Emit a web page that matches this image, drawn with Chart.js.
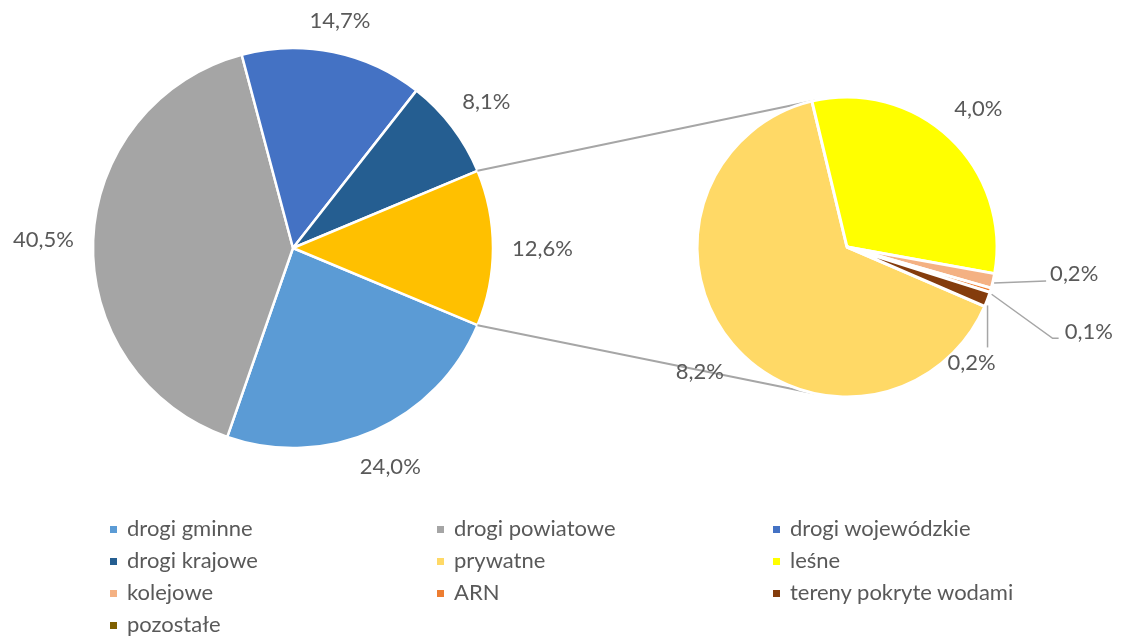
<!DOCTYPE html>
<html><head><meta charset="utf-8">
<script src="https://cdn.jsdelivr.net/npm/chart.js@4"></script>
<style>
html,body{margin:0;padding:0;background:#fff;width:1122px;height:639px;overflow:hidden;font-family:Lato,"Open Sans",sans-serif;}
canvas{position:absolute;left:0;top:0;}
#legend{position:absolute;left:0;top:0;width:1122px;height:639px;pointer-events:none;}
.li{position:absolute;font-size:22px;color:#595959;white-space:nowrap;line-height:26px;height:26px;}
.li span.m{display:inline-block;width:7px;height:7px;margin-right:10px;vertical-align:middle;position:relative;top:-1px;}
</style></head><body>
<canvas id="c1" width="1122" height="639"></canvas>
<canvas id="c2" width="1122" height="639"></canvas>
<div id="legend"></div>
<script>
// ---- data ----
const mainCategories = ['drogi gminne','drogi powiatowe','drogi wojewódzkie','drogi krajowe','pozostałe grunty'];
const mainValues = [24.0, 40.5, 14.7, 8.1, 12.6];
const mainColors = ['#5B9BD5','#A5A5A5','#4472C4','#255E91','#FFC000'];

const subCategories = ['prywatne','leśne','kolejowe','ARN','tereny pokryte wodami','pozostałe'];
const subValues = [8.2, 4.0, 0.2, 0.06, 0.2, 0];
const subColors = ['#FFD966','#FFFF00','#F4B183','#ED7D31','#843C0C','#7F6000'];

const legendItems = ['drogi gminne','drogi powiatowe','drogi wojewódzkie','drogi krajowe','prywatne','leśne','kolejowe','ARN','tereny pokryte wodami','pozostałe'];
const legendColors = ['#5B9BD5','#A5A5A5','#4472C4','#255E91','#FFD966','#FFFF00','#F4B183','#ED7D31','#843C0C','#7F6000'];

const TXT = '#595959';
const FONT = '22px Lato, "Open Sans", sans-serif';
function fmt(v){ return v.toFixed(1).replace('.', ',') + '%'; }

// label plugin
const labelPlugin = {
  id: 'pieLabels',
  afterDatasetsDraw(chart, args, opts) {
    const ctx = chart.ctx;
    const meta = chart.getDatasetMeta(0);
    const data = chart.data.datasets[0].data;
    ctx.save();
    ctx.font = FONT;
    ctx.fillStyle = TXT;
    meta.data.forEach((arc, i) => {
      const v = data[i];
      if (!v) return;
      const p = arc.getProps(['x','y','startAngle','endAngle','outerRadius'], true);
      const mid = (p.startAngle + p.endAngle) / 2;
      const c = Math.cos(mid), s = Math.sin(mid);
      const txt = fmt(v);
      const ov = (opts.overrides || {})[i];
      if (ov) {
        const ax = p.x + p.outerRadius * c, ay = p.y + p.outerRadius * s;
        ctx.strokeStyle = '#A6A6A6';
        ctx.lineWidth = 1.5;
        ctx.beginPath();
        ov.leader.forEach((pt, k) => {
          const X = ax + pt[0], Y = ay + pt[1];
          if (k === 0) ctx.moveTo(X, Y); else ctx.lineTo(X, Y);
        });
        ctx.stroke();
        ctx.textAlign = ov.align; ctx.textBaseline = 'middle';
        ctx.fillText(txt, ax + ov.text[0], ay + ov.text[1]);
        return;
      }
      const w = ctx.measureText(txt).width;
      const d = p.outerRadius + 19 + Math.abs(c) * w / 2 + Math.abs(s) * 8;
      ctx.textAlign = 'center'; ctx.textBaseline = 'middle';
      ctx.fillText(txt, p.x + d * c, p.y + d * s + 1);
    });
    ctx.restore();
  }
};

// connector lines (drawn on secondary chart, using main chart geometry)
let mainChart;
const connectorPlugin = {
  id: 'connectors',
  beforeDatasetsDraw(chart) {
    if (!mainChart) return;
    const mm = mainChart.getDatasetMeta(0);
    const other = mm.data[mm.data.length - 1].getProps(['x','y','startAngle','endAngle','outerRadius'], true);
    const sub = chart.getDatasetMeta(0).data[0].getProps(['x','y','outerRadius'], true);
    const ctx = chart.ctx;
    const pts = [
      [other.x + other.outerRadius*Math.cos(other.startAngle), other.y + other.outerRadius*Math.sin(other.startAngle), 1],
      [other.x + other.outerRadius*Math.cos(other.endAngle), other.y + other.outerRadius*Math.sin(other.endAngle), -1]
    ];
    ctx.save();
    ctx.strokeStyle = '#A6A6A6';
    ctx.lineWidth = 2;
    pts.forEach(([px, py, sign]) => {
      const dx = px - sub.x, dy = py - sub.y;
      const dist = Math.hypot(dx, dy);
      const base = Math.atan2(dy, dx);
      const a = base + sign * Math.acos(sub.outerRadius / dist);
      ctx.beginPath();
      ctx.moveTo(px, py);
      ctx.lineTo(sub.x + sub.outerRadius*Math.cos(a), sub.y + sub.outerRadius*Math.sin(a));
      ctx.stroke();
    });
    ctx.restore();
  }
};

mainChart = new Chart(document.getElementById('c1'), {
  type: 'pie',
  data: { labels: mainCategories, datasets: [{ data: mainValues, backgroundColor: mainColors, borderColor: '#fff', borderWidth: 2.5 }] },
  options: {
    responsive: false, animation: false, rotation: 112.7, radius: 200,
    layout: { padding: { left: 93, right: 1122 - 493, top: 48, bottom: 639 - 448 } },
    plugins: { legend: { display: false }, tooltip: { enabled: false }, pieLabels: {} }
  },
  plugins: [labelPlugin]
});

new Chart(document.getElementById('c2'), {
  type: 'pie',
  data: { labels: subCategories, datasets: [{ data: subValues, backgroundColor: subColors, borderColor: '#fff', borderWidth: 3 }] },
  options: {
    responsive: false, animation: false, rotation: 113.3, radius: 150,
    layout: { padding: { left: 697, right: 1122 - 997, top: 97, bottom: 639 - 397 } },
    plugins: { legend: { display: false }, tooltip: { enabled: false },
      pieLabels: { overrides: {
        2: { leader: [[1, 2], [53, 0]], text: [57, -7], align: 'left' },
        3: { leader: [[1, 4], [62, 48], [68, 48]], text: [74, 42], align: 'left' },
        4: { leader: [[0, 6], [0, 48]], text: [-16, 63], align: 'center' }
      } } }
  },
  plugins: [connectorPlugin, labelPlugin]
});

// legend
const colX = [110, 437, 773];
const rowY = [529, 561, 593, 625];
const lg = document.getElementById('legend');
legendItems.forEach((name, i) => {
  const d = document.createElement('div');
  d.className = 'li';
  d.style.left = colX[i % 3] + 'px';
  d.style.top = (rowY[Math.floor(i / 3)] - 14) + 'px';
  d.innerHTML = '<span class="m" style="background:' + legendColors[i] + '"></span>' + name;
  lg.appendChild(d);
});
</script>
</body></html>
